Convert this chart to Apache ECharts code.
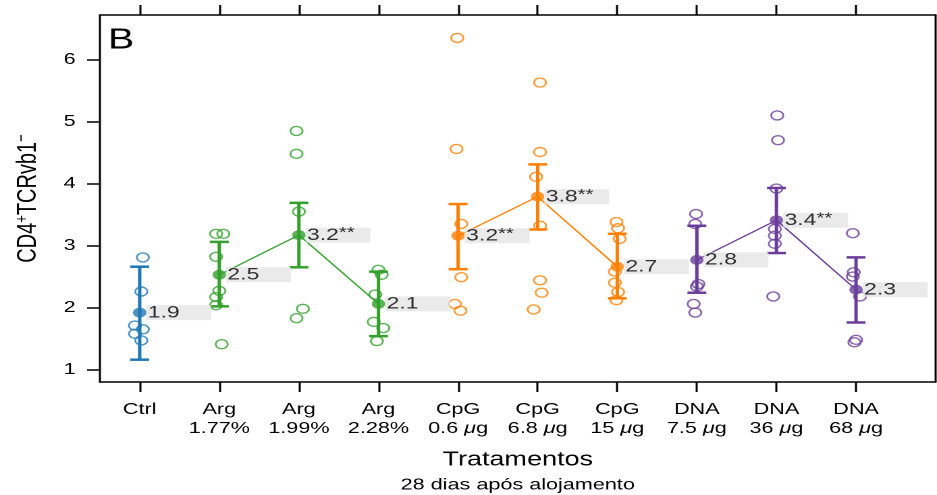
<!DOCTYPE html>
<html>
<head>
<meta charset="utf-8">
<script src="https://cdn.jsdelivr.net/npm/echarts@6/dist/echarts.min.js"></script>
<style>
  html, body { margin: 0; padding: 0; background: #fff; }
  #wrap { width: 937px; height: 495px; overflow: hidden; }
  /* the figure is laid out narrow and widened horizontally */
  #chart { width: 694px; height: 495px; transform: scaleX(1.3501); transform-origin: 0 0; }
</style>
</head>
<body>
<div id="wrap"><div id="chart"></div></div>
<script>
// Treatment labels (two lines each)
const catTop = ['Ctrl', 'Arg', 'Arg', 'Arg', 'CpG', 'CpG', 'CpG', 'DNA', 'DNA', 'DNA'];
const catBottom = ['', '1.77%', '1.99%', '2.28%', '0.6 μg', '6.8 μg', '15 μg', '7.5 μg', '36 μg', '68 μg'];
const yTicks = [1, 2, 3, 4, 5, 6];

// Individual animals per treatment
const ptsCtrl   = [2.81, 2.26, 1.71, 1.65, 1.58, 1.47];
const ptsArg177 = [3.19, 3.19, 2.82, 2.27, 2.17, 2.04, 1.41];
const ptsArg199 = [4.85, 4.48, 3.55, 1.98, 1.83];
const ptsArg228 = [2.61, 2.53, 2.21, 1.77, 1.67, 1.46];
const ptsCpG06  = [6.35, 4.56, 3.35, 2.49, 2.06, 1.95];
const ptsCpG68  = [5.63, 4.51, 4.11, 3.32, 2.44, 2.24, 1.97];
const ptsCpG15  = [3.38, 3.28, 3.11, 2.58, 2.40, 2.25, 2.12];
const ptsDNA75  = [3.51, 3.35, 2.38, 2.34, 2.06, 1.92];
const ptsDNA36  = [5.10, 4.70, 3.92, 3.27, 3.16, 3.03, 2.18];
const ptsDNA68  = [3.20, 2.57, 2.50, 2.18, 1.48, 1.44];

// Horizontal jitter of the individual points (category units)
const jitCtrl   = [0.04, 0.02, -0.06, 0.04, -0.06, 0.02];
const jitArg177 = [-0.04, 0.05, -0.04, 0.0, -0.04, -0.04, 0.03];
const jitArg199 = [-0.03, -0.03, 0.0, 0.05, -0.03];
const jitArg228 = [0.0, 0.04, -0.04, -0.06, 0.06, -0.02];
const jitCpG06  = [-0.01, -0.02, 0.04, 0.04, -0.04, 0.03];
const jitCpG68  = [0.03, 0.03, -0.02, 0.03, 0.03, 0.05, -0.05];
const jitCpG15  = [-0.01, 0.01, 0.03, -0.03, -0.03, 0.01, -0.01];
const jitDNA75  = [-0.01, -0.02, 0.02, 0.0, -0.04, -0.02];
const jitDNA36  = [0.01, 0.02, 0.0, -0.02, -0.02, -0.02, -0.04];
const jitDNA68  = [-0.04, -0.03, -0.04, 0.05, 0.0, -0.02];

// Group means, interval limits and significance marks
const means  = [1.92, 2.53, 3.17, 2.06, 3.16, 3.79, 2.66, 2.77, 3.41, 2.29];
const lowers = [1.16, 2.02, 2.65, 1.54, 2.62, 3.26, 2.15, 2.24, 2.88, 1.76];
const uppers = [2.66, 3.06, 3.69, 2.58, 3.67, 4.31, 3.19, 3.32, 3.93, 2.81];
const stars  = ['', '', '**', '', '**', '**', '', '', '**', ''];

// Treatment family of each column
const family = [0, 1, 1, 1, 2, 2, 2, 3, 3, 3];
const familyColors = ['#1f78b4', '#33a02c', '#ff7f00', '#6a3d9a'];

const allPts = [ptsCtrl, ptsArg177, ptsArg199, ptsArg228, ptsCpG06, ptsCpG68, ptsCpG15, ptsDNA75, ptsDNA36, ptsDNA68];
const allJit = [jitCtrl, jitArg177, jitArg199, jitArg228, jitCpG06, jitCpG68, jitCpG15, jitDNA75, jitDNA36, jitDNA68];
const positions = catTop.map((_, i) => i + 1);

const FONT = "'Liberation Sans', Arial, Helvetica, sans-serif";

const chart = echarts.init(document.getElementById('chart'), null, { renderer: 'canvas', devicePixelRatio: 2 });

const series = [];

// Interval bars with caps
series.push({
  type: 'custom',
  z: 2,
  data: positions.map((p, i) => [p, lowers[i], uppers[i]]),
  encode: { x: 0, y: [1, 2] },
  renderItem: function (params, api) {
    const x = api.value(0);
    const lo = api.coord([x, api.value(1)]);
    const hi = api.coord([x, api.value(2)]);
    const c = familyColors[family[params.dataIndex]];
    const half = 7;
    const st = { stroke: c, lineWidth: 2.5 };
    return {
      type: 'group',
      children: [
        { type: 'line', shape: { x1: lo[0], y1: lo[1], x2: hi[0], y2: hi[1] }, style: st },
        { type: 'line', shape: { x1: hi[0] - half, y1: hi[1], x2: hi[0] + half, y2: hi[1] }, style: st },
        { type: 'line', shape: { x1: lo[0] - half, y1: lo[1], x2: lo[0] + half, y2: lo[1] }, style: st }
      ]
    };
  }
});

// Individual points, one series per family
familyColors.forEach((c, f) => {
  const data = [];
  positions.forEach((p, i) => {
    if (family[i] !== f) return;
    allPts[i].forEach((v, j) => data.push([p + allJit[i][j], v]));
  });
  series.push({
    type: 'scatter',
    z: 3,
    symbol: 'circle',
    symbolSize: 9,
    itemStyle: { color: 'rgba(0,0,0,0)', borderColor: c, borderWidth: 1.4 },
    emphasis: { disabled: true },
    data: data
  });
});

// Lines joining the means inside each treatment family
[1, 2, 3].forEach(f => {
  const data = [];
  positions.forEach((p, i) => { if (family[i] === f) data.push([p, means[i]]); });
  series.push({
    type: 'line',
    z: 3,
    symbol: 'none',
    lineStyle: { color: familyColors[f], width: 1.2 },
    emphasis: { disabled: true },
    data: data
  });
});

// Means with value labels
series.push({
  type: 'scatter',
  z: 5,
  symbol: 'circle',
  symbolSize: 10,
  emphasis: { disabled: true },
  data: positions.map((p, i) => ({
    value: [p, means[i]],
    itemStyle: { color: familyColors[family[i]] }
  })),
  label: {
    show: true,
    position: 'right',
    distance: 0,
    backgroundColor: '#e5e5e5',
    width: 47,
    height: 15,
    padding: [0, 0, 0, 1],
    align: 'left',
    verticalAlign: 'middle',
    formatter: function (p) {
      const i = p.dataIndex;
      const txt = '{v|' + means[i].toFixed(1) + '}';
      return stars[i] ? txt + '{s|' + stars[i] + '}' : txt;
    },
    rich: {
      v: { fontFamily: FONT, fontSize: 17, color: '#000', lineHeight: 15 },
      s: { fontFamily: FONT, fontSize: 15, color: '#000', lineHeight: 15, padding: [0, 0, 4, 0] }
    }
  }
});

const xLabelRich = {
  t: { fontFamily: FONT, fontSize: 16, color: '#000', lineHeight: 19 },
  mu: { fontFamily: FONT, fontSize: 16, color: '#000', lineHeight: 19, fontStyle: 'italic' }
};

const option = {
  animation: false,
  backgroundColor: '#fff',
  textStyle: { fontFamily: FONT },
  grid: { left: 74, right: 1, top: 15, bottom: 113, containLabel: false },
  xAxis: [
    {
      type: 'value',
      position: 'bottom',
      min: 0.5,
      max: 11,
      splitLine: { show: false },
      axisLine: { show: true, lineStyle: { color: '#000', width: 1.5 } },
      axisTick: { show: true, customValues: positions, length: 10, inside: false, lineStyle: { color: '#000', width: 1.5 } },
      axisLabel: {
        customValues: positions,
        margin: 18,
        formatter: function (val) {
          const i = Math.round(val) - 1;
          let s = '{t|' + catTop[i] + '}';
          if (catBottom[i]) {
            s += '\n' + catBottom[i].split('μ').map(part => part ? '{t|' + part + '}' : '').join('{mu|μ}');
          }
          return s;
        },
        rich: xLabelRich
      },
      name: 'Tratamentos',
      nameLocation: 'middle',
      nameGap: 68,
      nameTextStyle: { fontFamily: FONT, fontSize: 20, color: '#000' }
    },
    {
      type: 'value',
      position: 'top',
      min: 0.5,
      max: 11,
      splitLine: { show: false },
      axisLine: { show: true, lineStyle: { color: '#000', width: 1.5 } },
      axisTick: { show: true, customValues: positions, length: 10, inside: false, lineStyle: { color: '#000', width: 1.5 } },
      axisLabel: { show: false }
    }
  ],
  yAxis: [
    {
      type: 'value',
      position: 'left',
      min: 0.8,
      max: 6.72,
      splitLine: { show: false },
      axisLine: { show: true, lineStyle: { color: '#000', width: 1.5 } },
      axisTick: { show: true, customValues: yTicks, length: 9.5, lineStyle: { color: '#000', width: 1.5 } },
      axisLabel: { customValues: yTicks, margin: 18, fontFamily: FONT, fontSize: 16, color: '#000' },
      name: 'CD4{sup|+}TCRvb1{sup|−}',
      nameLocation: 'middle',
      nameGap: 42,
      nameTextStyle: {
        fontFamily: FONT, fontSize: 20, color: '#000',
        rich: {
          sup: { fontFamily: FONT, fontSize: 13, color: '#000', padding: [0, 0, 9, 0] }
        }
      }
    },
    {
      type: 'value',
      position: 'right',
      min: 0.8,
      max: 6.72,
      splitLine: { show: false },
      axisLine: { show: true, lineStyle: { color: '#000', width: 1.5 } },
      axisTick: { show: false },
      axisLabel: { show: false }
    }
  ],
  graphic: [
    {
      type: 'text',
      left: 80,
      top: 26,
      style: { text: 'B', font: "29px 'Liberation Sans', Arial, sans-serif", fill: '#000' }
    },
    {
      type: 'text',
      x: 383.5,
      y: 485,
      style: {
        text: '28 dias após alojamento',
        font: "16px 'Liberation Sans', Arial, sans-serif",
        fill: '#000',
        align: 'center',
        verticalAlign: 'middle'
      }
    }
  ],
  series: series
};

chart.setOption(option);
</script>
</body>
</html>
